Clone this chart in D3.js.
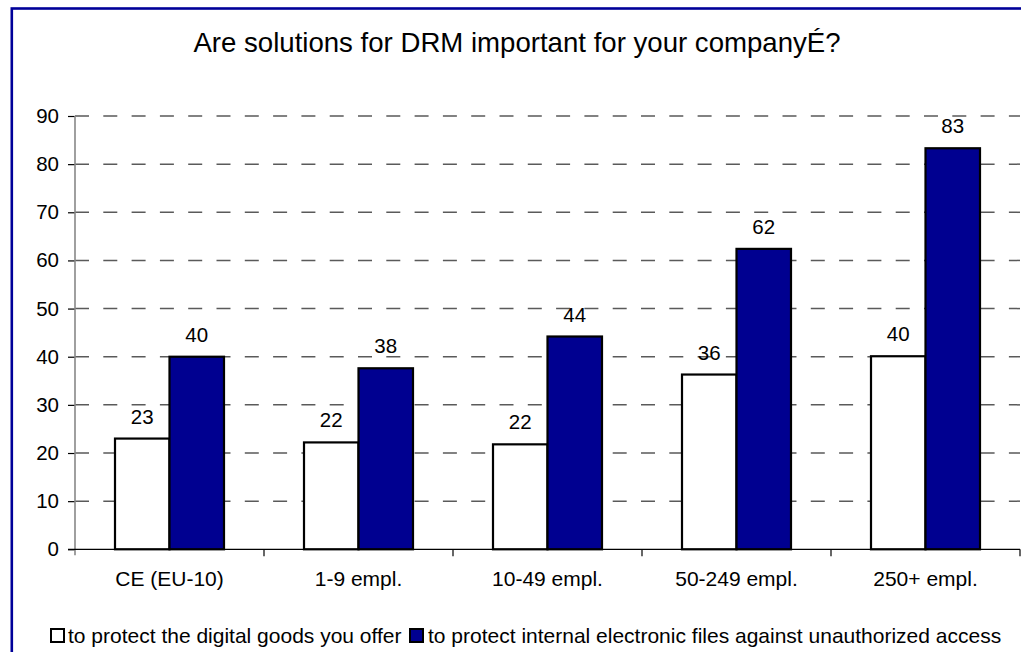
<!DOCTYPE html>
<html>
<head>
<meta charset="utf-8">
<script src="https://cdn.jsdelivr.net/npm/d3@7"></script>
<style>
  html, body { margin: 0; padding: 0; background: #fff; }
  svg { display: block; font-family: "Liberation Sans", Arial, sans-serif; }
</style>
</head>
<body>
<svg id="chart" width="1021" height="652"></svg>
<script>
// ---- data ----
const title = "Are solutions for DRM important for your companyÉ?";
const categories = ["CE (EU-10)", "1-9 empl.", "10-49 empl.", "50-249 empl.", "250+ empl."];
const seriesNames = ["to protect the digital goods you offer",
                     "to protect internal electronic files against unauthorized access"];
const digitalGoods  = [23.0, 22.2, 21.8, 36.3, 40.1];
const internalFiles = [40.0, 37.6, 44.2, 62.4, 83.3];
const yTicks = [0, 10, 20, 30, 40, 50, 60, 70, 80, 90];
const seriesColors = ["#ffffff", "#000090"];

// ---- layout ----
const svg = d3.select("#chart");
const mLeft = 75, mRight = 1020, mTop = 116, mBottom = 549.3;

svg.append("rect")
  .attr("x", 11.8).attr("y", 8.5).attr("width", 1100).attr("height", 700)
  .attr("fill", "#fff").attr("stroke", "#000099").attr("stroke-width", 2.6);

const x = d3.scaleBand().domain(categories).range([mLeft, mRight]).padding(0);
const xs = d3.scaleBand().domain([0, 1]).range([0, x.bandwidth()])
  .paddingInner(0).paddingOuter(0.734);
const y = d3.scaleLinear().domain([0, 90]).range([mBottom, mTop]);

// gridlines
svg.append("g").selectAll("line").data(yTicks.filter(d => d > 0)).join("line")
  .attr("x1", mLeft).attr("x2", mRight)
  .attr("y1", d => y(d)).attr("y2", d => y(d))
  .attr("stroke", "#5a5a5a").attr("stroke-width", 1.5)
  .attr("stroke-dasharray", "14 14.3");

// y axis
const yAxis = svg.append("g").attr("transform", `translate(${mLeft},0)`)
  .call(d3.axisLeft(y).tickValues(yTicks).tickSize(7).tickPadding(9));
yAxis.select(".domain").remove();
yAxis.selectAll(".tick line").attr("stroke", "#000").attr("stroke-width", 1.2);
yAxis.selectAll(".tick text").attr("font-size", 20.5).attr("fill", "#000")
  .attr("font-family", "Liberation Sans, Arial, sans-serif");
svg.append("line").attr("x1", mLeft).attr("x2", mLeft).attr("y1", mTop).attr("y2", mBottom + 6)
  .attr("stroke", "#888").attr("stroke-width", 1.6);

// bars
const data = categories.map((c, i) => ({ c, v: [digitalGoods[i], internalFiles[i]] }));
const groups = svg.append("g").selectAll("g").data(data).join("g")
  .attr("transform", d => `translate(${x(d.c)},0)`);
groups.selectAll("rect").data(d => d.v.map((v, s) => ({ v, s }))).join("rect")
  .attr("x", d => xs(d.s)).attr("width", xs.bandwidth())
  .attr("y", d => y(d.v)).attr("height", d => y(0) - y(d.v))
  .attr("fill", d => seriesColors[d.s]).attr("stroke", "#000").attr("stroke-width", 2.2);
groups.selectAll("text").data(d => d.v.map((v, s) => ({ v, s }))).join("text")
  .attr("x", d => xs(d.s) + xs.bandwidth() / 2).attr("y", d => y(d.v) - 15)
  .attr("text-anchor", "middle").attr("font-size", 20.5).attr("fill", "#000")
  .text(d => Math.round(d.v));

// x axis
const xAxis = svg.append("g").attr("transform", `translate(0,${mBottom})`)
  .call(d3.axisBottom(x).tickSize(0).tickPadding(22));
xAxis.select(".domain").remove();
xAxis.selectAll(".tick text").attr("font-size", 21).attr("fill", "#000")
  .attr("font-family", "Liberation Sans, Arial, sans-serif");
svg.append("line").attr("x1", mLeft - 7).attr("x2", mRight).attr("y1", mBottom).attr("y2", mBottom)
  .attr("stroke", "#000").attr("stroke-width", 1.3);
const boundaries = categories.map(c => x(c)).concat([x(categories[categories.length - 1]) + x.bandwidth()]).slice(1);
svg.append("g").selectAll("line").data(boundaries).join("line")
  .attr("x1", d => d).attr("x2", d => d).attr("y1", mBottom).attr("y2", mBottom + 7)
  .attr("stroke", "#000").attr("stroke-width", 1.2);

// title
svg.append("text").attr("x", 517).attr("y", 52).attr("text-anchor", "middle")
  .attr("font-size", 27.6).attr("fill", "#000").text(title);

// legend
const legend = svg.append("g");
const lg1 = legend.append("g");
lg1.append("rect").attr("x", 51).attr("y", 629).attr("width", 13).attr("height", 13)
  .attr("fill", seriesColors[0]).attr("stroke", "#000").attr("stroke-width", 2);
lg1.append("text").attr("x", 68).attr("y", 643).attr("font-size", 21).text(seriesNames[0]);
const lg2 = legend.append("g");
lg2.append("rect").attr("x", 410).attr("y", 629).attr("width", 13).attr("height", 13)
  .attr("fill", seriesColors[1]).attr("stroke", "#000").attr("stroke-width", 2);
lg2.append("text").attr("x", 428).attr("y", 643).attr("font-size", 21).text(seriesNames[1]);
</script>
</body>
</html>
